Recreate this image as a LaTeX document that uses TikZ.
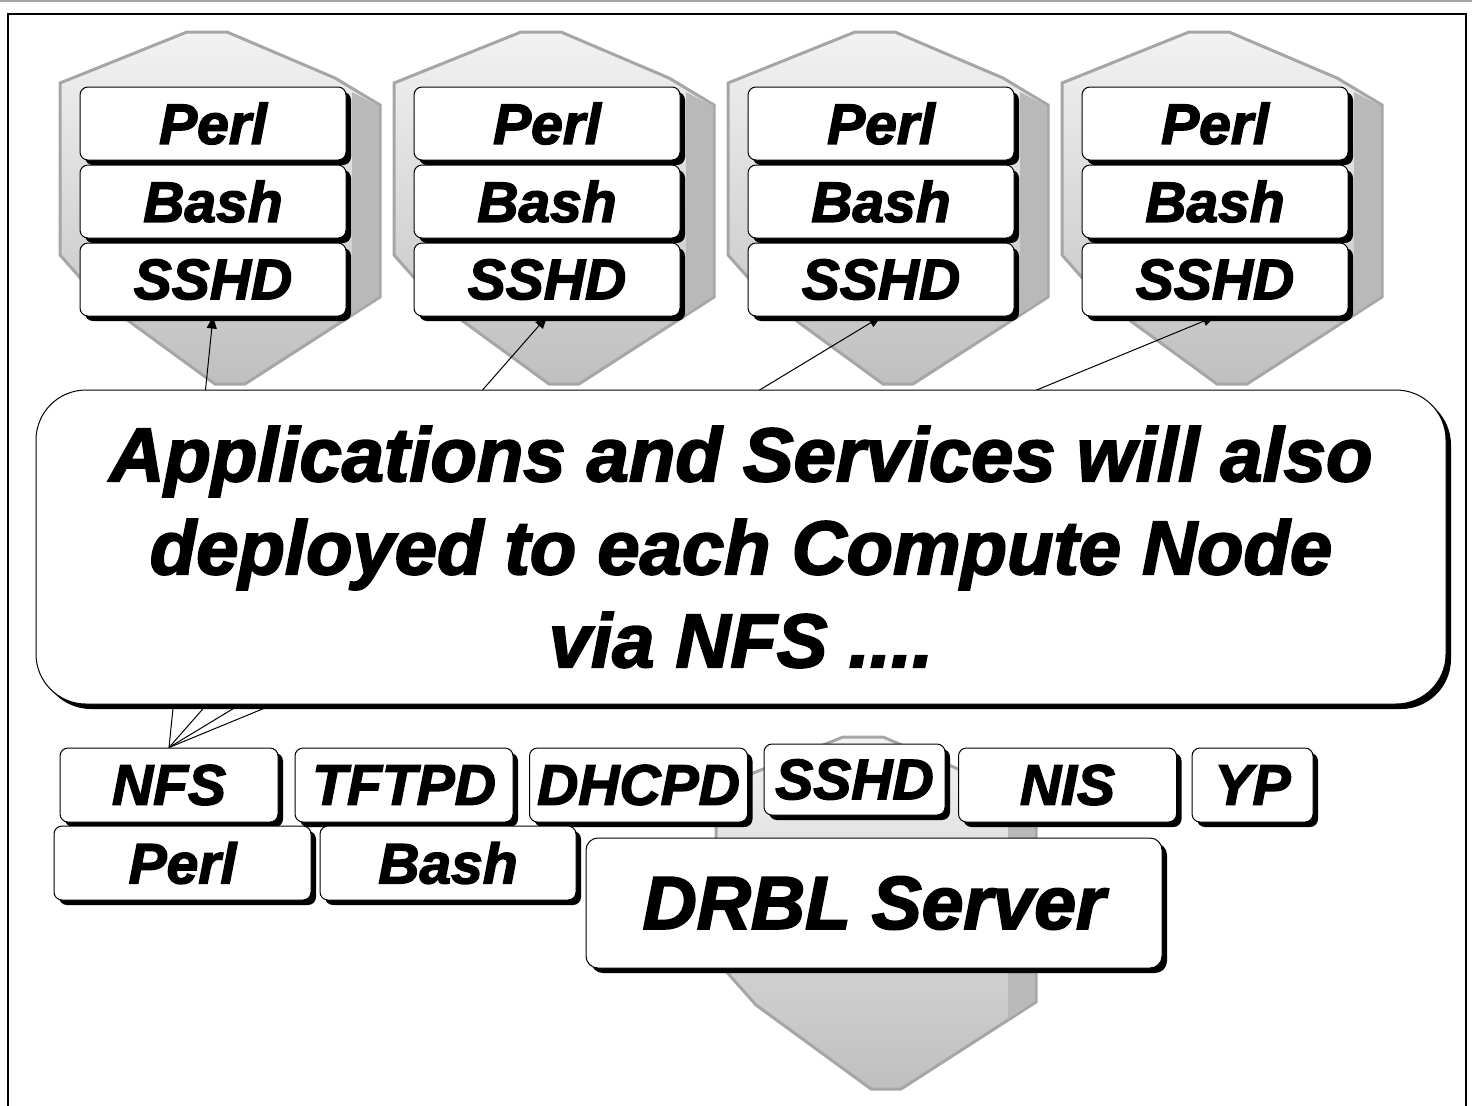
\documentclass[tikz,border=0pt]{standalone}
\usepackage{fontspec}
\setmainfont{Liberation Sans}[BoldItalicFeatures={FakeBold=2.5}]
\usetikzlibrary{arrows.meta,shadows}
\begin{document}
\begin{tikzpicture}[x=0.5pt,y=-0.5pt,
  box/.style={draw, fill=white, line width=0.5pt, rounded corners=4pt, inner sep=0pt,
    font=\bfseries\itshape\fontsize{28.5}{30}\selectfont,
    drop shadow={shadow xshift=2.5pt, shadow yshift=-2.5pt, fill=black, opacity=1}},
  layer/.style={box, minimum width=133pt, minimum height=36.5pt},
  svc/.style={box, minimum width=109pt, minimum height=37pt},
  link/.style={line width=0.5pt, -{Triangle[length=6pt, width=5pt]}},
  tower/.pic={
    \draw[draw=gray!70, line width=1.5pt, top color=gray!10, bottom color=gray!50]
      (0,53) -- (127,2) -- (167,2) -- (275,48) -- (320,75) -- (320,267)
      -- (185,354) -- (155,354) -- (40,270) -- (0,225) -- cycle;
    \fill[gray!55] (292,62) -- (319,76) -- (319,266) -- (292,284) -- cycle;
  }]
\useasboundingbox (0,0) rectangle (1472,1105);
\draw[gray!70, line width=1pt] (0,1) -- (1472,1);
\draw[line width=1pt] (8,1110) -- (8,14) -- (1466,14) -- (1466,1110);

% server towers
\pic at (60,30) {tower};
\pic at (394,30) {tower};
\pic at (728,30) {tower};
\pic at (1062,30) {tower};
\pic at (716,735) {tower};

% compute nodes
\node[layer] (perlA) at (213,123.5) {Perl};
\node[layer] (bashA) at (213,201.5) {Bash};
\node[layer] (sshdA) at (213,279.5) {SSHD};
\node[layer] (perlB) at (547,123.5) {Perl};
\node[layer] (bashB) at (547,201.5) {Bash};
\node[layer] (sshdB) at (547,279.5) {SSHD};
\node[layer] (perlC) at (881,123.5) {Perl};
\node[layer] (bashC) at (881,201.5) {Bash};
\node[layer] (sshdC) at (881,279.5) {SSHD};
\node[layer] (perlD) at (1215,123.5) {Perl};
\node[layer] (bashD) at (1215,201.5) {Bash};
\node[layer] (sshdD) at (1215,279.5) {SSHD};

% server services
\node[svc] (nfs) at (169,785) {NFS};
\node[svc] (tftpd) at (404,785) {TFTPD};
\node[svc] (dhcpd) at (638.5,785) {DHCPD};
\node[svc, minimum width=90.5pt, minimum height=35.5pt] (sshd) at (854.5,779.5) {SSHD};
\node[svc] (nis) at (1067.5,785) {NIS};
\node[svc, minimum width=60.5pt] (yp) at (1252.5,785) {YP};
\node[svc, minimum width=128.5pt] (perl) at (182.5,863) {Perl};
\node[svc, minimum width=128pt] (bash) at (448,863) {Bash};
\node[box, minimum width=288pt, minimum height=65pt, rounded corners=6pt,
  font=\bfseries\itshape\fontsize{37.5}{40}\selectfont] (drbl) at (874,903) {DRBL Server};

\draw[link] (nfs.north) -- (sshdA.south);
\draw[link] (nfs.north) -- (sshdB.south);
\draw[link] (nfs.north) -- (sshdC.south);
\draw[link] (nfs.north) -- (sshdD.south);

% callout
\node[box, minimum width=705pt, minimum height=157pt, rounded corners=25pt,
  drop shadow={shadow xshift=2pt, shadow yshift=-2pt, fill=black, opacity=1},
  align=center, font=\bfseries\itshape\fontsize{38}{46.5}\selectfont] (note) at (741,547)
  {Applications and Services will also\\deployed to each Compute Node\\via NFS ....};
\end{tikzpicture}
\end{document}
